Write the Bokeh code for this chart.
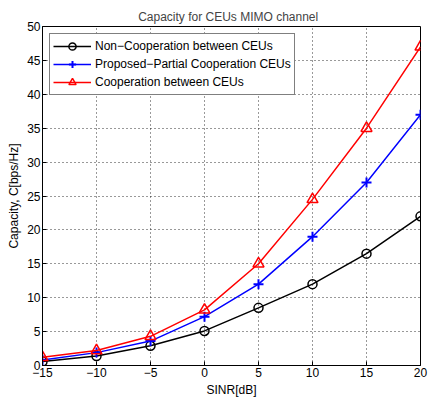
from bokeh.plotting import figure
from bokeh.models import Legend, LegendItem, FixedTicker, Range1d
from bokeh.embed import file_html
from bokeh.resources import INLINE

sinr = [-15, -10, -5, 0, 5, 10, 15, 20]
non_coop = [0.6, 1.4, 2.9, 5.1, 8.5, 12.0, 16.5, 22.0]
partial_coop = [0.8, 1.9, 3.6, 7.2, 12.0, 19.0, 27.0, 37.0]
full_coop = [1.2, 2.2, 4.3, 8.2, 15.0, 24.5, 35.0, 47.0]
labels = ["Non\u2212Cooperation between CEUs",
          "Proposed\u2212Partial Cooperation CEUs",
          "Cooperation between CEUs"]
x_ticks = [-15, -10, -5, 0, 5, 10, 15, 20]
y_ticks = [0, 5, 10, 15, 20, 25, 30, 35, 40, 45, 50]

FONT = "Liberation Sans"

p = figure(width=430, height=399, output_backend="svg", toolbar_location=None,
           x_range=Range1d(-15, 20), y_range=Range1d(0, 50),
           min_border_left=42, min_border_right=10, min_border_top=26, min_border_bottom=30)
p.title.text = "Capacity  for CEUs  MIMO channel"
p.title.align = "center"
p.title.text_font = FONT
p.title.text_font_size = "12px"
p.title.text_font_style = "normal"
p.title.standoff = 6
p.outline_line_color = "black"
p.outline_line_width = 1
p.background_fill_color = "white"
p.border_fill_color = "white"

for ax in (p.xaxis[0], p.yaxis[0]):
    ax.major_tick_in = 4
    ax.major_tick_out = 0
    ax.minor_tick_in = 0
    ax.minor_tick_out = 0
    ax.axis_line_color = "black"
    ax.major_tick_line_color = "black"
    ax.major_label_text_font = FONT
    ax.major_label_text_font_size = "12px"
    ax.major_label_text_color = "black"
    ax.axis_label_text_font = FONT
    ax.axis_label_text_font_size = "12px"
    ax.axis_label_text_font_style = "normal"
    ax.axis_label_text_color = "black"
    ax.major_label_standoff = 2
    ax.axis_label_standoff = 3

p.xaxis.ticker = FixedTicker(ticks=x_ticks)
p.yaxis.ticker = FixedTicker(ticks=y_ticks)
p.xaxis.major_label_overrides = {t: (str(t).replace("-", "\u2212")) for t in x_ticks}
p.xaxis.axis_label = "SINR[dB]"
p.yaxis.axis_label = "Capacity, C[bps/Hz]"

p.grid.grid_line_color = "black"
p.grid.grid_line_dash = "1 3"
p.grid.grid_line_alpha = 0.8

l1 = p.line(sinr, non_coop, line_color="black", line_width=1.5)
m1 = p.scatter(sinr, non_coop, marker="circle", size=9, fill_color=None,
               line_color="black", line_width=1.5)
l2 = p.line(sinr, partial_coop, line_color="blue", line_width=1.5)
m2 = p.scatter(sinr, partial_coop, marker="cross", size=10,
               line_color="blue", line_width=2)
l3 = p.line(sinr, full_coop, line_color="red", line_width=1.5)
m3 = p.scatter(sinr, full_coop, marker="triangle", size=11, fill_color=None,
               line_color="red", line_width=1.5)

legend = Legend(items=[LegendItem(label=labels[0], renderers=[l1, m1]),
                       LegendItem(label=labels[1], renderers=[l2, m2]),
                       LegendItem(label=labels[2], renderers=[l3, m3])],
                location="top_left")
legend.label_text_font = FONT
legend.label_text_font_size = "12px"
legend.label_text_color = "black"
legend.border_line_color = "black"
legend.border_line_width = 1
legend.glyph_width = 38
legend.glyph_height = 18
legend.label_height = 18
legend.spacing = 0
legend.padding = 3
legend.margin = 7
legend.label_standoff = 4
legend.background_fill_alpha = 1
p.add_layout(legend)

open("out.html", "w").write(file_html(p, INLINE))
